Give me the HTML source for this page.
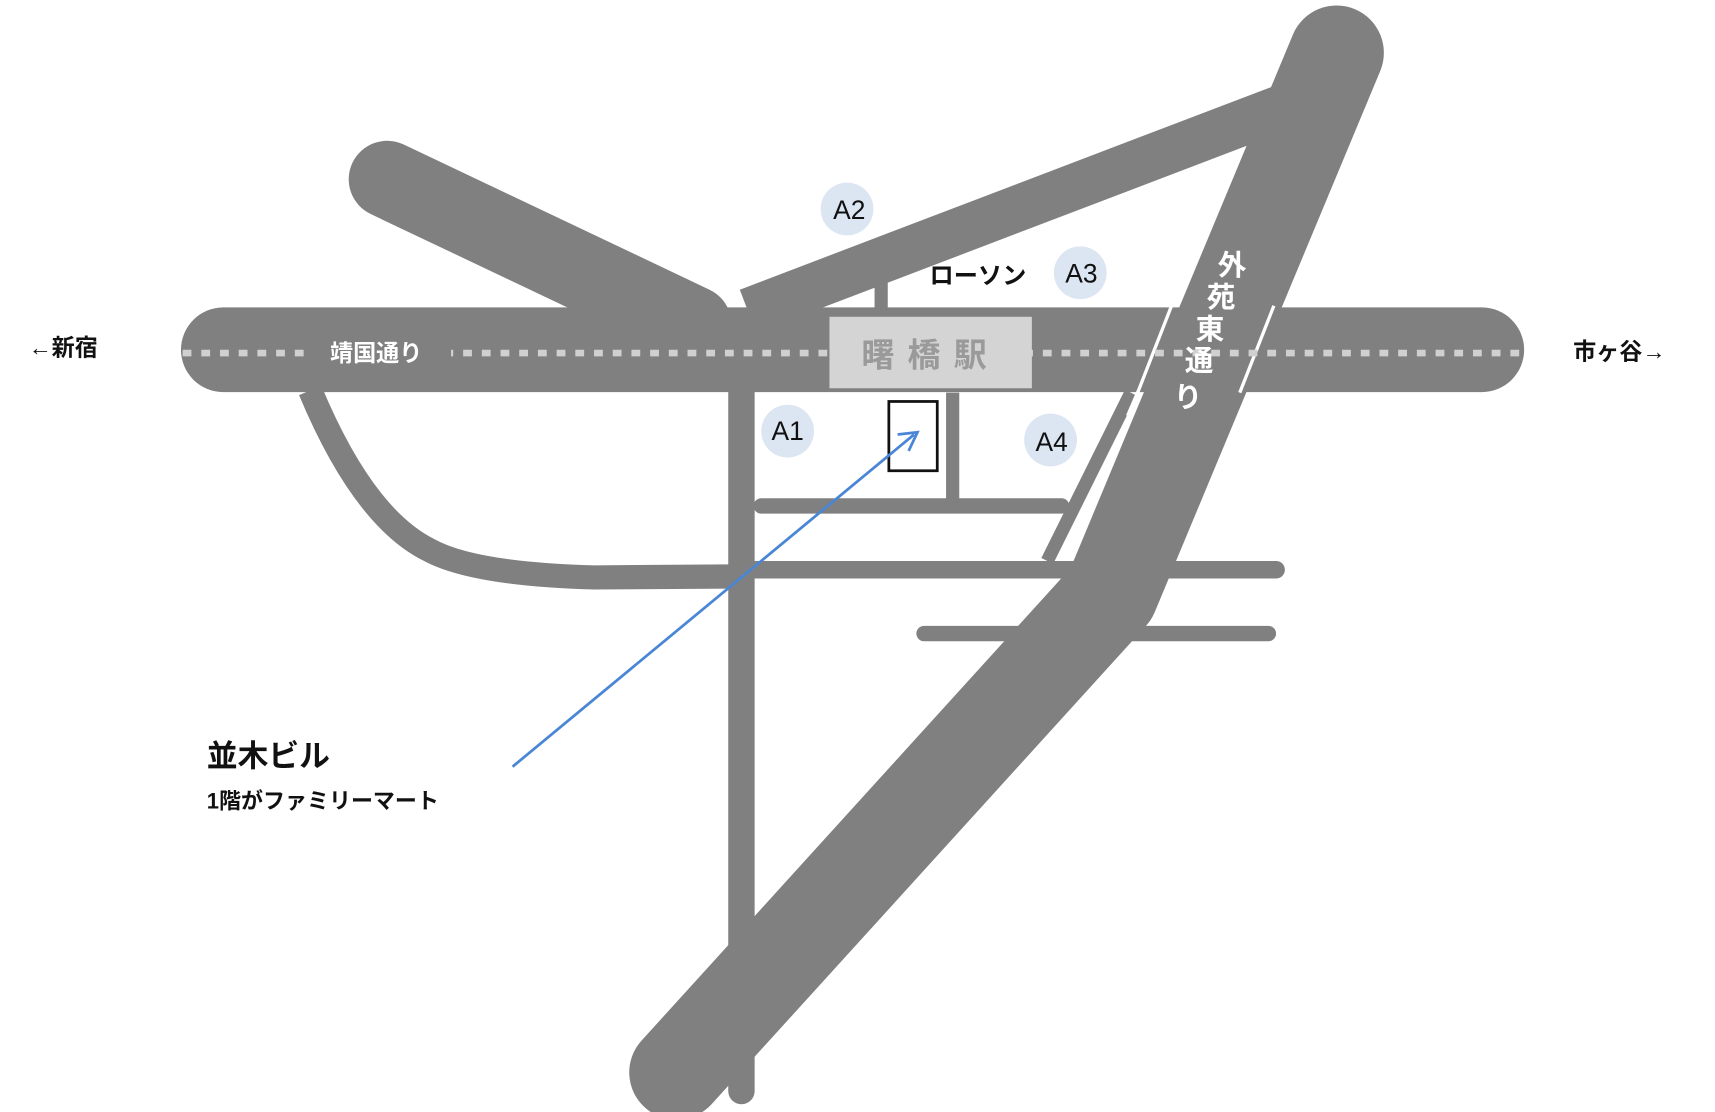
<!DOCTYPE html>
<html><head><meta charset="utf-8"><style>
html,body{margin:0;padding:0;background:#fff;}
svg{display:block;}
text{font-family:"Liberation Sans","Noto Sans CJK JP",sans-serif;}
</style></head><body>
<svg width="1715" height="1112" viewBox="0 0 1559 1011" preserveAspectRatio="none" xmlns="http://www.w3.org/2000/svg">
<rect width="1559" height="1011" fill="#fff"/>
<g stroke="#808080" fill="none" stroke-linecap="round">
  <!-- upper-left thick road -->
  <line x1="352" y1="163" x2="630" y2="295" stroke-width="70"/>
  <!-- upper diagonal -->
  <line x1="680" y1="283" x2="1165" y2="98" stroke-width="42" stroke-linecap="butt"/>
  <!-- small vertical near lawson -->
  <line x1="801" y1="248" x2="801" y2="285" stroke-width="12" stroke-linecap="butt"/>
  <!-- main horizontal -->
  <line x1="203" y1="318" x2="1347" y2="318" stroke-width="77"/>
  <!-- left curve -->
  <path d="M282,355 Q330,470 390,500 Q430,522 540,525 L680,524" stroke-width="22" stroke-linecap="butt"/>
  <!-- vertical road -->
  <line x1="674" y1="357" x2="674" y2="992" stroke-width="24"/>
  <!-- short vertical -->
  <line x1="866" y1="357" x2="866" y2="455" stroke-width="12" stroke-linecap="butt"/>
  <!-- horizontals -->
  <line x1="692" y1="460" x2="965" y2="460" stroke-width="14"/>
  <line x1="680" y1="518" x2="1160" y2="518" stroke-width="16"/>
  <line x1="840" y1="576" x2="1153" y2="576" stroke-width="14"/>
  <!-- thin diagonal beside Gaien -->
  <line x1="1028" y1="357" x2="952" y2="510" stroke-width="12" stroke-linecap="butt"/>
  <!-- Gaien-higashi thick -->
  <path d="M1215,48 L1010,540 L615,975" stroke-width="86" stroke-linejoin="round"/>
</g>
<!-- white edge lines crossing horizontal road -->
<line x1="1065" y1="278" x2="1033" y2="360" stroke="#fff" stroke-width="3"/>
<line x1="1158" y1="278" x2="1127" y2="357" stroke="#fff" stroke-width="3"/>
<line x1="1035" y1="355" x2="1025" y2="378" stroke="#fff" stroke-width="3"/>
<!-- dotted line -->
<line x1="166" y1="321" x2="1390" y2="321" stroke="#d0d0d0" stroke-width="6" stroke-dasharray="8,9"/>
<rect x="280" y="304" width="130" height="30" fill="#808080"/>
<text x="300" y="328" font-size="21" font-weight="bold" fill="#fff">靖国通り</text>
<!-- station -->
<rect x="754" y="288" width="184" height="65" fill="#d4d4d4"/>
<text x="846" y="333" font-size="30" font-weight="bold" fill="#9a9a9a" text-anchor="middle" letter-spacing="12">曙橋駅</text>
<!-- circles -->
<g fill="#dce5f2">
<circle cx="770" cy="190" r="24"/><circle cx="982" cy="248" r="24"/>
<circle cx="716" cy="392" r="24"/><circle cx="955" cy="400" r="24"/>
</g>
<g font-size="24" fill="#111" text-anchor="middle">
<text x="772" y="199">A2</text><text x="983" y="257">A3</text>
<text x="716" y="400">A1</text><text x="956" y="410">A4</text>
</g>
<text x="845" y="258" font-size="22" font-weight="bold" fill="#111">ローソン</text>
<!-- building -->
<rect x="808" y="365" width="44" height="63" fill="#fff" stroke="#111" stroke-width="2.5"/>
<!-- arrow -->
<line x1="466" y1="697" x2="831" y2="395" stroke="#4a86d6" stroke-width="2.5"/>
<polyline points="816,395 834,393 826,410" fill="none" stroke="#4a86d6" stroke-width="2.5"/>
<!-- vertical label -->
<g font-size="26" font-weight="bold" fill="#fff" text-anchor="middle">
<text x="1120" y="250">外</text><text x="1110" y="279">苑</text><text x="1100" y="308">東</text>
<text x="1090" y="337">通</text><text x="1080" y="370">り</text>
</g>
<!-- side labels -->
<text x="26" y="323" font-size="21" font-weight="bold" fill="#111">←新宿</text>
<text x="1430" y="327" font-size="21" font-weight="bold" fill="#111">市ヶ谷→</text>
<text x="188" y="697" font-size="28" font-weight="bold" fill="#111">並木ビル</text>
<text x="188" y="735" font-size="20" font-weight="bold" fill="#111">1階がファミリーマート</text>
</svg>
</body></html>
